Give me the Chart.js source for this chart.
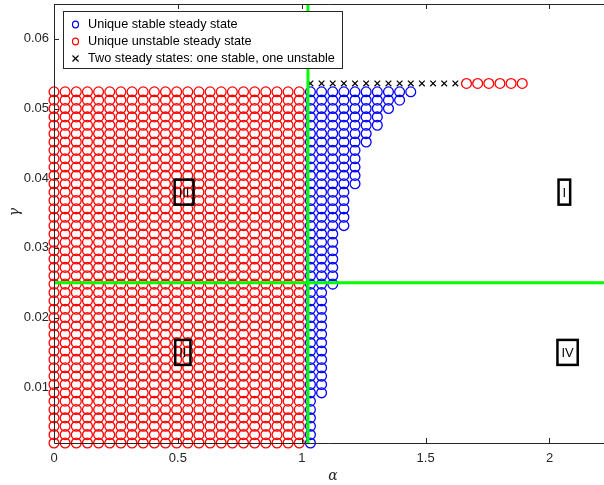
<!DOCTYPE html>
<html>
<head>
<meta charset="utf-8">
<script src="https://cdn.jsdelivr.net/npm/chart.js@4"></script>
<style>
  body { margin: 0; background: #fff; }
  canvas { display: block; }
</style>
</head>
<body>
<canvas id="phaseChart" width="604" height="485"></canvas>
<script>
// parameter grid (alpha columns, gamma rows)
const alphaVals = [0, 0.045, 0.09, 0.135, 0.18, 0.225, 0.27, 0.315, 0.36, 0.405, 0.45, 0.495,
  0.54, 0.585, 0.63, 0.675, 0.72, 0.765, 0.81, 0.855, 0.9, 0.945, 0.99, 1.035, 1.08, 1.125,
  1.17, 1.215, 1.26, 1.305, 1.35, 1.395, 1.44, 1.485, 1.53, 1.575, 1.62, 1.665, 1.71, 1.755,
  1.8, 1.845, 1.89];
const gammaVals = [0.002, 0.0032, 0.0044, 0.0056, 0.0068, 0.008, 0.0092, 0.0104, 0.0116, 0.0128,
  0.014, 0.0152, 0.0164, 0.0176, 0.0188, 0.02, 0.0212, 0.0224, 0.0236, 0.0248, 0.026, 0.0272,
  0.0284, 0.0296, 0.0308, 0.032, 0.0332, 0.0344, 0.0356, 0.0368, 0.038, 0.0392, 0.0404, 0.0416,
  0.0428, 0.044, 0.0452, 0.0464, 0.0476, 0.0488, 0.05, 0.0512, 0.0524, 0.0536];

// unique unstable: full columns on the left, plus a short run on the top row
const unstableAlpha = [0, 0.045, 0.09, 0.135, 0.18, 0.225, 0.27, 0.315, 0.36, 0.405, 0.45, 0.495,
  0.54, 0.585, 0.63, 0.675, 0.72, 0.765, 0.81, 0.855, 0.9, 0.945, 0.99];
const unstableGammaLow = 0.002;
const unstableGammaHigh = 0.0524;
const unstableTopAlpha = [1.665, 1.71, 1.755, 1.8, 1.845, 1.89];
const topRowGamma = 0.0536;

// unique stable: each column runs from its low gamma up to 0.0524
const stableAlpha = [1.035, 1.08, 1.125, 1.17, 1.215, 1.26, 1.305, 1.35, 1.395, 1.44];
const stableGammaLow = [0.002, 0.0092, 0.0248, 0.0332, 0.0392, 0.0452, 0.0476, 0.05, 0.0512, 0.0524];
const stableGammaHigh = 0.0524;

// two steady states (crosses), top row only
const twoStateAlpha = [1.035, 1.08, 1.125, 1.17, 1.215, 1.26, 1.305, 1.35, 1.395, 1.44, 1.485,
  1.53, 1.575, 1.62];

// boundaries and region labels
const alphaCrit = 1.025;
const gammaCrit = 0.025;
const regionLabels = ['I', 'III', 'II', 'IV'];
const regionAlpha = [2.06, 0.525, 0.52, 2.073];
const regionGamma = [0.038, 0.038, 0.015, 0.015];

const xTicks = [0, 0.5, 1, 1.5, 2];
const yTicks = [0.01, 0.02, 0.03, 0.04, 0.05, 0.06];
const xRange = [0, 2.22];
const yRange = [0.002, 0.065];

const legendLabels = ['Unique stable steady state', 'Unique unstable steady state',
  'Two steady states: one stable, one unstable'];

const AXIS_COLOR = '#262626';
const FONT = '"Liberation Sans", Arial, Helvetica, sans-serif';

function columnPoints(alphas, low, high) {
    const pts = [];
    alphas.forEach((a, i) => {
        const lo = Array.isArray(low) ? low[i] : low;
        const hi = Array.isArray(high) ? high[i] : high;
        gammaVals.forEach(g => {
            if (g >= lo - 1e-9 && g <= hi + 1e-9) pts.push({ x: a, y: g });
        });
    });
    return pts;
}

const unstablePts = columnPoints(unstableAlpha, unstableGammaLow, unstableGammaHigh)
    .concat(unstableTopAlpha.map(a => ({ x: a, y: topRowGamma })));
const stablePts = columnPoints(stableAlpha, stableGammaLow, stableGammaHigh);
const twoStatePts = twoStateAlpha.map(a => ({ x: a, y: topRowGamma }));

// box, inward ticks
const axesPlugin = {
    id: 'axesBox',
    afterDatasetsDraw(chart) {
        const { ctx, chartArea: a, scales: { x, y } } = chart;
        ctx.save();
        ctx.strokeStyle = AXIS_COLOR;
        ctx.lineWidth = 1;
        ctx.beginPath();
        ctx.moveTo(a.left + 0.5, a.top + 0.5);
        ctx.lineTo(a.left + 0.5, a.bottom + 0.5);
        ctx.lineTo(a.right, a.bottom + 0.5);
        ctx.moveTo(a.left + 0.5, a.top + 0.5);
        ctx.lineTo(a.right, a.top + 0.5);
        xTicks.forEach(v => {
            const px = Math.round(x.getPixelForValue(v)) + 0.5;
            ctx.moveTo(px, a.bottom);
            ctx.lineTo(px, a.bottom - 5);
            ctx.moveTo(px, a.top);
            ctx.lineTo(px, a.top + 5);
        });
        yTicks.forEach(v => {
            const py = Math.round(y.getPixelForValue(v)) + 0.5;
            ctx.moveTo(a.left, py);
            ctx.lineTo(a.left + 5, py);
        });
        ctx.stroke();

        // axis titles
        ctx.fillStyle = AXIS_COLOR;
        ctx.font = 'italic 14px "DejaVu Serif", serif';
        ctx.textAlign = 'center';
        ctx.textBaseline = 'middle';
        ctx.fillText('α', 333, 476);
        ctx.save();
        ctx.translate(15, 212);
        ctx.rotate(-Math.PI / 2);
        ctx.fillText('γ', 0, 0);
        ctx.restore();
        ctx.restore();
    }
};

// boxed region labels
const regionPlugin = {
    id: 'regions',
    afterDatasetsDraw(chart) {
        const { ctx, scales: { x, y } } = chart;
        ctx.save();
        ctx.font = '13px ' + FONT;
        ctx.textAlign = 'center';
        ctx.textBaseline = 'middle';
        regionLabels.forEach((txt, i) => {
            const cx = x.getPixelForValue(regionAlpha[i]);
            const cy = y.getPixelForValue(regionGamma[i]);
            const w = ctx.measureText(txt).width + 8;
            const h = 25;
            ctx.strokeStyle = '#000';
            ctx.lineWidth = 2.5;
            ctx.strokeRect(cx - w / 2, cy - h / 2, w, h);
            ctx.fillStyle = '#000';
            ctx.fillText(txt, cx, cy + 1);
        });
        ctx.restore();
    }
};

// legend box in the upper left
const legendPlugin = {
    id: 'innerLegend',
    afterDraw(chart) {
        const { ctx } = chart;
        const box = { x: 63.5, y: 11.5, w: 279, h: 57 };
        const colors = ['#0000ff', '#ff0000', '#000000'];
        ctx.save();
        ctx.fillStyle = '#fff';
        ctx.fillRect(box.x, box.y, box.w, box.h);
        ctx.strokeStyle = AXIS_COLOR;
        ctx.lineWidth = 1;
        ctx.strokeRect(box.x, box.y, box.w, box.h);
        ctx.font = '12.7px ' + FONT;
        ctx.textBaseline = 'middle';
        ctx.textAlign = 'left';
        legendLabels.forEach((txt, i) => {
            const ry = 24.5 + i * 17;
            ctx.strokeStyle = colors[i];
            ctx.lineWidth = 1.2;
            ctx.beginPath();
            if (i < 2) {
                ctx.ellipse(75.5, ry, 3, 3.3, 0, 0, Math.PI * 2);
            } else {
                ctx.moveTo(72.5, ry - 3); ctx.lineTo(78.5, ry + 3);
                ctx.moveTo(78.5, ry - 3); ctx.lineTo(72.5, ry + 3);
            }
            ctx.stroke();
            ctx.fillStyle = '#000';
            ctx.fillText(txt, 88, ry);
        });
        ctx.restore();
    }
};

new Chart(document.getElementById('phaseChart'), {
    type: 'scatter',
    data: {
        datasets: [
            {
                label: 'alpha boundary',
                type: 'line',
                data: [{ x: alphaCrit, y: yRange[0] }, { x: alphaCrit, y: yRange[1] }],
                borderColor: '#00ff00',
                borderWidth: 3,
                pointRadius: 0,
                fill: false,
                order: 0
            },
            {
                label: 'gamma boundary',
                type: 'line',
                data: [{ x: xRange[0], y: gammaCrit }, { x: xRange[1], y: gammaCrit }],
                borderColor: '#00ff00',
                borderWidth: 3,
                pointRadius: 0,
                fill: false,
                order: 0
            },
            {
                label: legendLabels[2],
                data: twoStatePts,
                pointStyle: 'crossRot',
                pointRadius: 4,
                borderColor: '#000',
                borderWidth: 1.2,
                order: 1
            },
            {
                label: legendLabels[0],
                data: stablePts,
                pointStyle: 'circle',
                pointRadius: 4.9,
                borderColor: '#0000ff',
                backgroundColor: 'rgba(0,0,0,0)',
                borderWidth: 1.3,
                order: 1
            },
            {
                label: legendLabels[1],
                data: unstablePts,
                pointStyle: 'circle',
                pointRadius: 4.9,
                borderColor: '#ff0000',
                backgroundColor: 'rgba(0,0,0,0)',
                borderWidth: 1.3,
                order: 1
            }
        ]
    },
    options: {
        responsive: false,
        animation: false,
        clip: false,
        layout: { autoPadding: false, padding: { top: 4, right: 0, left: 0, bottom: 0 } },
        plugins: {
            legend: { display: false },
            tooltip: { enabled: false }
        },
        scales: {
            x: {
                type: 'linear',
                min: xRange[0],
                max: xRange[1],
                grid: { display: false, drawTicks: false },
                border: { display: false },
                afterBuildTicks: scale => { scale.ticks = xTicks.map(v => ({ value: v })); },
                afterFit: scale => {
                    scale.height = 42;
                    scale.paddingLeft = 0;
                    scale.paddingRight = 0;
                },
                ticks: {
                    color: AXIS_COLOR,
                    font: { family: FONT, size: 13 },
                    padding: 8,
                    maxRotation: 0,
                    callback: v => String(v)
                }
            },
            y: {
                type: 'linear',
                min: yRange[0],
                max: yRange[1],
                grid: { display: false, drawTicks: false },
                border: { display: false },
                afterBuildTicks: scale => { scale.ticks = yTicks.map(v => ({ value: v })); },
                afterFit: scale => {
                    scale.width = 54;
                    scale.paddingTop = 0;
                    scale.paddingBottom = 0;
                },
                ticks: {
                    color: AXIS_COLOR,
                    font: { family: FONT, size: 13 },
                    padding: 5,
                    callback: v => v.toFixed(2)
                }
            }
        }
    },
    plugins: [axesPlugin, regionPlugin, legendPlugin]
});
</script>
</body>
</html>
